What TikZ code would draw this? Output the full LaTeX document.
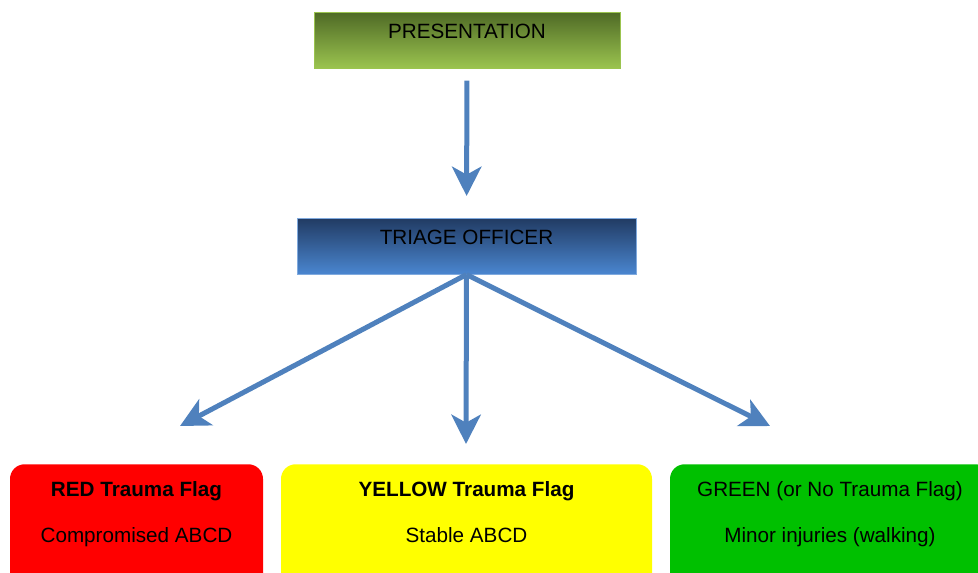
\documentclass[tikz,border=0pt]{standalone}
\usepackage{fontspec}
\setmainfont{Liberation Sans}
\usetikzlibrary{arrows.meta}
\definecolor{presdark}{HTML}{4F6A26}
\definecolor{preslight}{HTML}{9BC44F}
\definecolor{triagedark}{HTML}{213B63}
\definecolor{triagelight}{HTML}{4A86D0}
\definecolor{flowblue}{HTML}{4F81BD}
\definecolor{flagred}{HTML}{FF0000}
\definecolor{flagyellow}{HTML}{FFFF00}
\definecolor{flaggreen}{HTML}{00C000}

\begin{document}
\begin{tikzpicture}[x=0.75pt,y=-0.75pt,
    font=\fontsize{15.5}{34.5}\selectfont,
    flow/.style={draw=flowblue,line width=3.75pt,-{Stealth[length=22pt,width=22pt,inset=6pt]}},
    stagebox/.style={anchor=north,minimum width=#1,inner ysep=9pt,text height=11pt,text depth=13pt},
    flagbox/.style={anchor=north,minimum width=#1,inner ysep=13pt,text depth=60pt,align=center,rounded corners=11pt}]
      \useasboundingbox (0,0) rectangle (978,572);
      \clip (0,0) rectangle (978,572);
      % top of the chart
      \node[stagebox=229.5pt,top color=presdark,bottom color=preslight,draw=preslight] (pres) at (467,12) {PRESENTATION};
      \node[stagebox=254.25pt,top color=triagedark,bottom color=triagelight,draw=triagelight!70] (triage) at (466.5,218) {TRIAGE OFFICER};
      % the three flags
      \node[flagbox=189.75pt,fill=flagred] (red) at (136.5,464) {\bfseries RED Trauma Flag\\Compromised ABCD};
      \node[flagbox=278.25pt,fill=flagyellow] (yellow) at (466.5,464) {\bfseries YELLOW Trauma Flag\\Stable ABCD};
      \node[flagbox=240pt,fill=flaggreen] (green) at (830,464) {GREEN (or No Trauma Flag)\\Minor injuries (walking)};
      \coordinate (redtip) at (180,426);
      \coordinate (yellowtip) at (466,444);
      \coordinate (greentip) at (770,426);
      \draw[flow,shorten <=9pt,shorten >=16.5pt] (pres) -- (triage);
      \draw[flow] (triage.south) -- (redtip);
      \draw[flow] (triage.south) -- (yellowtip);
      \draw[flow] (triage.south) -- (greentip);
    \end{tikzpicture}
\end{document}
